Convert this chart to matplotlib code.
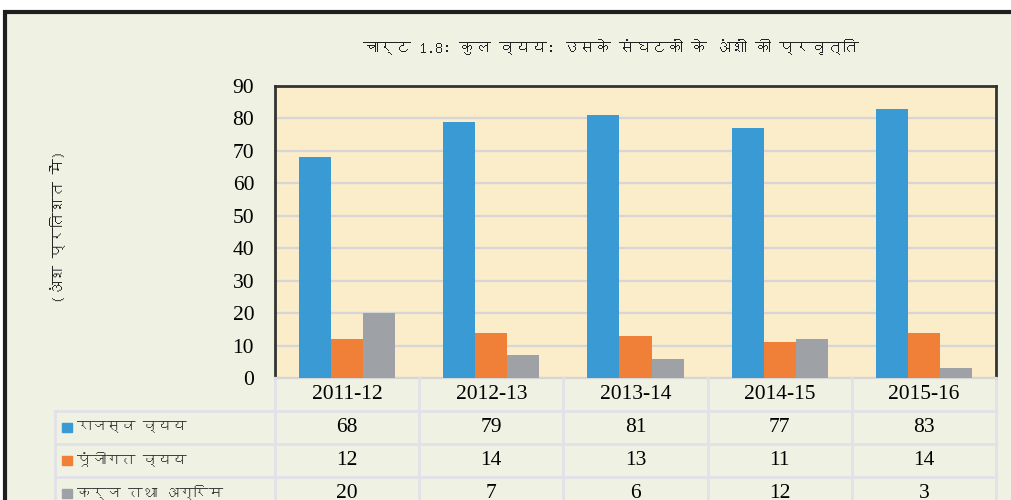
import matplotlib
matplotlib.use("Agg")
import matplotlib.pyplot as plt
from matplotlib.patches import Rectangle
from matplotlib import font_manager
from matplotlib.ft2font import FT2Font

years = ["2011-12", "2012-13", "2013-14", "2014-15", "2015-16"]
series_names = ["राजस्व व्यय", "पूंजीगत व्यय", "कर्ज तथा अग्रिम"]
revenue = [68, 79, 81, 77, 83]
capital = [12, 14, 13, 11, 14]
loans = [20, 7, 6, 12, 3]
yticks = [0, 10, 20, 30, 40, 50, 60, 70, 80, 90]

title = "चार्ट 1.8: कुल व्यय: उसके संघटकों के अंशों की प्रवृत्ति"
ylabel = "(अंश प्रतिशत में)"

colors = ["#3a9ad3", "#f07f38", "#9ea2a6"]
bg = "#eff1e3"
plot_bg = "#fbecca"
grid_c = "#d6d6d6"
table_c = "#e1e1e8"


# look for any installed font that has Devanagari glyphs
def find_deva():
    for f in font_manager.fontManager.ttflist:
        try:
            if 0x0915 in FT2Font(f.fname).get_charmap():
                return f.name
        except Exception:
            pass
    return None


deva = find_deva()
hfam = [deva, "DejaVu Sans"] if deva else ["Noto Sans", "DejaVu Sans"]
num_font = "Liberation Serif"

W, H = 1011, 500
fig = plt.figure(figsize=(W / 100, H / 100), dpi=100)
fig.patch.set_facecolor("white")

# outer panel with black frame
fig.patches.append(Rectangle((5 / W, -0.1), 1.2, 1 - 12 / H + 0.1,
                             transform=fig.transFigure, facecolor=bg,
                             edgecolor="#1e1e1e", lw=3, zorder=-5))

L, R, T, B = 275, 996, 86, 378
ax = fig.add_axes([L / W, 1 - B / H, (R - L) / W, (B - T) / H])
ax.set_facecolor(plot_bg)

n = len(years)
w = 0.222
x = list(range(n))
for k, vals in enumerate([revenue, capital, loans]):
    ax.bar([i + (k - 1) * w for i in x], vals, width=w, color=colors[k], zorder=3)

ax.set_xlim(-0.5, n - 0.5)
ax.set_ylim(0, 90)
ax.set_yticks(yticks)
ax.set_yticklabels([str(t) for t in yticks], fontfamily=num_font, fontsize=15.5)
ax.tick_params(axis="y", length=0, pad=15)
ax.set_xticks([])
ax.yaxis.grid(True, color=grid_c, lw=1.6, zorder=1)
ax.set_axisbelow(True)
for s in ["left", "top", "right"]:
    ax.spines[s].set_color("#333333")
    ax.spines[s].set_linewidth(2)
ax.spines["bottom"].set_color(grid_c)
ax.spines["bottom"].set_linewidth(1.6)

# data table under the plot
TL, TB = 55, 510
tax = fig.add_axes([TL / W, 1 - TB / H, (R - TL) / W, (TB - B) / H])
tax.set_facecolor("none")
col_w = (R - L) / n
tax.set_xlim(-0.5 - (L - TL) / col_w, n - 0.5)
tax.set_ylim(4, 0)
tax.axis("off")
x0 = -0.5 - (L - TL) / col_w

for i in range(n + 1):
    tax.plot([i - 0.5, i - 0.5], [0, 4], color=table_c, lw=2, clip_on=False)
tax.plot([x0, x0], [1, 4], color=table_c, lw=2, clip_on=False)
for r in range(1, 4):
    tax.plot([x0, n - 0.5], [r, r], color=table_c, lw=2, clip_on=False)

for i, yr in enumerate(years):
    tax.text(i, 0.5, yr, ha="center", va="center", fontfamily=num_font, fontsize=15.5)
for r, vals in enumerate([revenue, capital, loans]):
    for i, v in enumerate(vals):
        tax.text(i, r + 1.5, str(v), ha="center", va="center",
                 fontfamily=num_font, fontsize=15.5)
    px = lambda p: x0 + p / col_w
    tax.add_patch(Rectangle((px(7), r + 1.5 - 0.15), 10 / col_w, 0.3,
                            color=colors[r], clip_on=False))
    tax.text(px(22), r + 1.45, series_names[r], ha="left", va="center",
             family=hfam, fontsize=10.5, color="#333333")

fig.text(611 / W, 1 - 47 / H, title, ha="center", va="center",
         family=hfam, fontsize=11.5, color="#222222")
fig.text(58 / W, 1 - 227 / H, ylabel, ha="center", va="center",
         rotation=90, family=hfam, fontsize=11, color="#222222")

fig.savefig("out.png", dpi=100, facecolor=fig.get_facecolor())
